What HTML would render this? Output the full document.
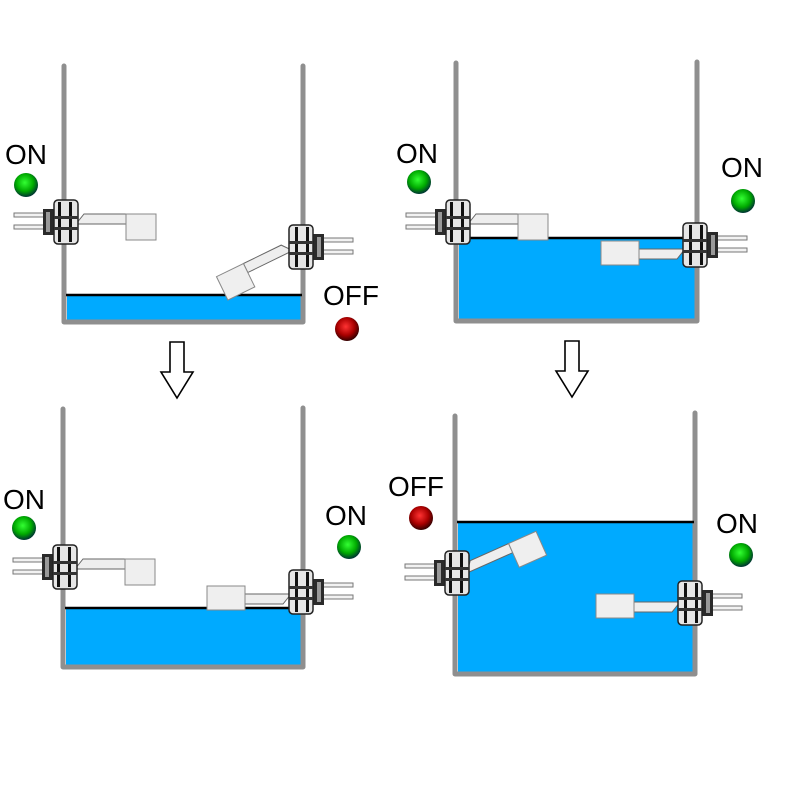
<!DOCTYPE html>
<html><head><meta charset="utf-8"><style>
html,body{margin:0;padding:0;background:#fff;width:802px;height:786px;overflow:hidden}
svg{display:block}
text{font-family:"Liberation Sans","DejaVu Sans",sans-serif;font-size:28px;fill:#000}
</style></head><body>
<svg width="802" height="786" viewBox="0 0 802 786" xmlns="http://www.w3.org/2000/svg">
<defs>
<radialGradient id="gg" cx="45%" cy="40%" r="60%"><stop offset="0" stop-color="#3f3"/><stop offset="0.6" stop-color="#0a0"/><stop offset="1" stop-color="#033"/></radialGradient>
<radialGradient id="rg" cx="45%" cy="40%" r="60%"><stop offset="0" stop-color="#f33"/><stop offset="0.6" stop-color="#a00"/><stop offset="1" stop-color="#300"/></radialGradient>
<g id="body">
<rect x="-50" y="-9" width="32" height="4" fill="#f2f2f2" stroke="#777" stroke-width="1"/>
<rect x="-50" y="3" width="32" height="4" fill="#f2f2f2" stroke="#777" stroke-width="1"/>
<rect x="-21" y="-13" width="11" height="26" fill="#2a2a2a"/>
<rect x="-18" y="-10" width="4" height="20" fill="#999"/>
<rect x="-10" y="-22" width="24" height="44" rx="4" fill="#e6e6e6" stroke="#222" stroke-width="1.5"/>
<rect x="-6" y="-20" width="3" height="40" fill="#111"/>
<rect x="5" y="-20" width="3" height="40" fill="#111"/>
<rect x="-10" y="-6" width="24" height="3" fill="#333"/>
<rect x="-10" y="5" width="24" height="3" fill="#333"/>
</g>
<g id="armH">
<path d="M12,2 L20,-8 L62,-8 L62,2 Z" fill="#eee" stroke="#666" stroke-width="1"/>
<rect x="62" y="-8" width="30" height="26" fill="#efefef" stroke="#888" stroke-width="1"/>
</g>
<g id="armR">
<path d="M12,-2 L20,8 L58,8 L58,-2 Z" fill="#eee" stroke="#666" stroke-width="1"/>
<rect x="58" y="-10" width="38" height="24" fill="#efefef" stroke="#888" stroke-width="1"/>
</g>
</defs>

<g fill="none" stroke="#8f8f8f" stroke-width="5" stroke-linecap="round" stroke-linejoin="round">
<rect x="67" y="296" width="234" height="24" fill="#00aaff" stroke="none"/>
<rect x="459" y="238" width="236" height="81" fill="#00aaff" stroke="none"/>
<rect x="66" y="608" width="235" height="57" fill="#00aaff" stroke="none"/>
<rect x="458" y="522" width="235" height="150" fill="#00aaff" stroke="none"/>
<path d="M64,66 V322 H303 V66"/>
<path d="M456,63 V321 H697 V62"/>
<path d="M63,409 V667 H303 V408"/>
<path d="M455,416 V674 H695 V413"/>
</g>
<g stroke="#000" stroke-width="2.5">
<line x1="66" y1="295" x2="302" y2="295"/>
<line x1="458" y1="238" x2="696" y2="238"/>
<line x1="65" y1="608" x2="302" y2="608"/>
<line x1="457" y1="522" x2="694" y2="522"/>
</g>

<g transform="translate(64,222)"><use href="#armH"/><use href="#body"/></g>
<g transform="translate(303,247) scale(-1,1)"><g transform="rotate(26 12 0)"><use href="#armH" transform="translate(0,2)"/></g><use href="#body"/></g>
<g transform="translate(456,222)"><use href="#armH"/><use href="#body"/></g>
<g transform="translate(697,245) scale(-1,1)"><use href="#armR" transform="translate(0,6)"/><use href="#body"/></g>
<g transform="translate(63,567)"><use href="#armH"/><use href="#body"/></g>
<g transform="translate(303,592) scale(-1,1)"><use href="#armR" transform="translate(0,4)"/><use href="#body"/></g>
<g transform="translate(455,573)"><g transform="rotate(-24 12 0)"><use href="#armH" transform="translate(0,-2)"/></g><use href="#body"/></g>
<g transform="translate(692,603) scale(-1,1)"><use href="#armR" transform="translate(0,1)"/><use href="#body"/></g>

<text x="5" y="164">ON</text><circle cx="26" cy="185" r="12" fill="url(#gg)"/>
<text x="323" y="305">OFF</text><circle cx="347" cy="329" r="12" fill="url(#rg)"/>
<text x="396" y="163">ON</text><circle cx="419" cy="182" r="12" fill="url(#gg)"/>
<text x="721" y="177">ON</text><circle cx="743" cy="201" r="12" fill="url(#gg)"/>
<text x="3" y="509">ON</text><circle cx="24" cy="528" r="12" fill="url(#gg)"/>
<text x="325" y="525">ON</text><circle cx="349" cy="547" r="12" fill="url(#gg)"/>
<text x="388" y="496">OFF</text><circle cx="421" cy="518" r="12" fill="url(#rg)"/>
<text x="716" y="533">ON</text><circle cx="741" cy="555" r="12" fill="url(#gg)"/>

<path d="M170,342 H184 V372 H193 L177,398 L161,372 H170 Z" fill="#fff" stroke="#000" stroke-width="1.6"/>
<path d="M565,341 H579 V371 H588 L572,397 L556,371 H565 Z" fill="#fff" stroke="#000" stroke-width="1.6"/>
</svg>
</body></html>
